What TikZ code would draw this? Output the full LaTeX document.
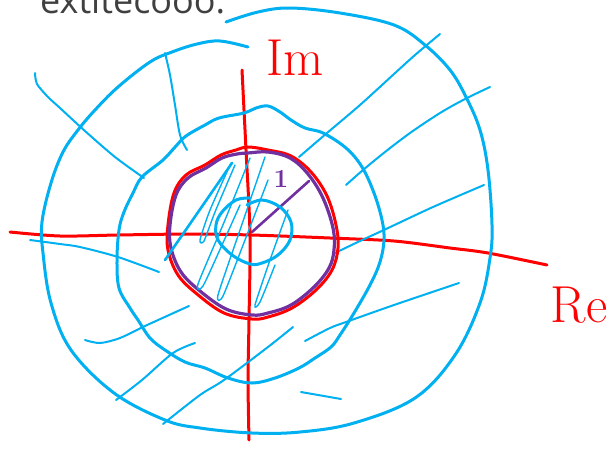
\documentclass[tikz,border=0pt]{standalone}
\usepackage{fontspec}
\newfontfamily\headfont{Open Sans}
\definecolor{skyblue}{HTML}{00B0F0}
\definecolor{axisred}{HTML}{FF0000}
\definecolor{unitpurple}{HTML}{7030A0}
\definecolor{headgray}{HTML}{404040}

\begin{document}
\begin{tikzpicture}[
    x=1pt, y=-1pt,
    ring/.style = {draw=skyblue, line width=3pt, line cap=round, line join=round},
    ray/.style = {draw=skyblue, line width=2pt, line cap=round, line join=round},
    hatch/.style = {draw=skyblue, line width=1.4pt, line cap=round, line join=round},
    axis/.style = {draw=axisred, line width=3pt, line cap=round, line join=round},
    unitline/.style = {draw=unitpurple, line width=3.2pt, line cap=round, line join=round},
    label/.style = {inner sep=0pt, font=\fontsize{52}{52}\selectfont},
]
\useasboundingbox (0,0) rectangle (615,448);
\clip (0,0) rectangle (615,448);

% cut-off heading
\node[anchor=base west, inner sep=0pt, text=headgray, font=\headfont\fontsize{36}{36}\selectfont] (head) at (40,13) {extitecooo:};

% axes
\draw[axis] plot[smooth, tension=0.5] coordinates {(242,70) (244,110) (246,150) (250,235) (249,320) (248,380) (249,440)};
\draw[axis] plot[smooth, tension=0.5] coordinates {(10,232) (60,236) (118,235) (190,234) (252,235) (330,238) (394,241) (450,248) (488,253) (547,265)};

% outer ring
\draw[ring] plot[smooth, tension=0.6] coordinates {(226,22) (258,12) (290,8) (340,13) (394,25) (425,45) (450,70) (466,97) (480,130) (488,170) (492,225) (490,258) (480,303) (455,355) (415,398) (354,423) (300,432) (252,433) (200,428) (165,420) (114,393) (71,350) (51,303) (43,253) (42,222) (51,183) (63,152) (78,130) (95,110) (118,87) (150,62) (172,52) (197,44) (220,41) (248,47)};

% middle ring
\draw[ring] plot[smooth cycle, tension=0.6] coordinates {(142,177) (163,160) (176,146) (186,136) (205,125) (219,118) (244,113) (256,108) (268,106) (280,112) (291,120) (305,128) (323,133) (346,148) (362,167) (374,193) (382,220) (384,240) (380,262) (370,285) (354,313) (340,335) (331,347) (315,358) (299,368) (275,378) (252,383) (228,378) (205,368) (185,362) (165,350) (150,338) (138,320) (130,308) (119,288) (117,260) (119,230) (124,212) (133,193)};

% rays
\draw[ray] plot[smooth, tension=0.5] coordinates {(35,73) (37,84) (48,97) (60,108) (85,131) (115,157) (144,178)};
\draw[ray] plot[smooth, tension=0.5] coordinates {(165,53) (170,75) (175,105) (180,135) (187,150)};
\draw[ray] plot[smooth, tension=0.5] coordinates {(440,34) (415,55) (394,74) (360,105) (327,133) (299,157)};
\draw[ray] plot[smooth, tension=0.5] coordinates {(490,87) (465,99) (440,113) (410,133) (385,152) (363,170) (346,185)};
\draw[ray] plot[smooth, tension=0.5] coordinates {(484,185) (433,207) (386,229) (360,241) (335,253)};
\draw[ray] plot[smooth, tension=0.5] coordinates {(30,240) (60,244) (80,247) (118,257) (159,272)};
\draw[ray] plot[smooth, tension=0.5] coordinates {(85,340) (100,343) (120,338) (145,326) (189,306)};
\draw[ray] plot[smooth, tension=0.5] coordinates {(116,400) (142,380) (173,353) (195,343)};
\draw[ray] plot[smooth, tension=0.5] coordinates {(163,424) (200,395) (224,380) (268,347) (293,327)};
\draw[ray] plot[smooth, tension=0.5] coordinates {(305,341) (330,328) (346,322) (394,305) (459,283)};
\draw[ray] plot[smooth, tension=0.5] coordinates {(301,392) (341,399)};

% unit circle, red and purple
\draw[axis] plot[smooth cycle, tension=0.6] coordinates {(248,147) (268,150) (291,156) (311,172) (327,196) (336,225) (338,248) (332,270) (316,290) (292,308) (268,317) (252,319) (224,313) (197,294) (178,275) (168,250) (168,225) (174,193) (186,175) (205,165) (221,155) (236,150)};
\draw[unitline] plot[smooth cycle, tension=0.6] coordinates {(248,153) (268,152) (290,158) (308,174) (323,198) (333,228) (334,250) (329,268) (314,287) (291,305) (268,313) (252,315) (226,309) (200,291) (181,272) (171,248) (170,225) (176,195) (188,178) (206,168) (222,158) (237,154)};
\draw[unitline, line width=2.6pt] (252,232) -- (309,181);
\node[text=unitpurple, inner sep=0pt, font=\fontsize{26}{26}\selectfont\bfseries] (one) at (281,179) {1};

% small circle and hatching
\draw[ring] plot[smooth, tension=0.6] coordinates {(247,205) (262,200) (280,207) (291,222) (290,240) (278,255) (262,263) (250,264) (232,255) (218,240) (216,225) (222,212) (236,200) (250,198)};
\draw[ring, line width=2.6pt] (165,260) -- (232,163);
\draw[hatch] plot[smooth, tension=0.4] coordinates {(231,163) (210,210) (200,240) (204,241) (215,212) (235,165)};
\draw[hatch] plot[smooth, tension=0.4] coordinates {(250,158) (225,220) (198,284) (203,286) (222,245) (240,205)};
\draw[hatch] plot[smooth, tension=0.4] coordinates {(265,157) (240,230) (218,295) (223,296) (245,240) (268,180)};
\draw[hatch] plot[smooth, tension=0.4] coordinates {(288,210) (270,260) (255,305) (260,302) (275,265)};

% axis labels
\node[label, text=axisred] (im) at (295,58) {Im};
\node[label, text=axisred] (re) at (579,305) {Re};
\end{tikzpicture}
\end{document}
